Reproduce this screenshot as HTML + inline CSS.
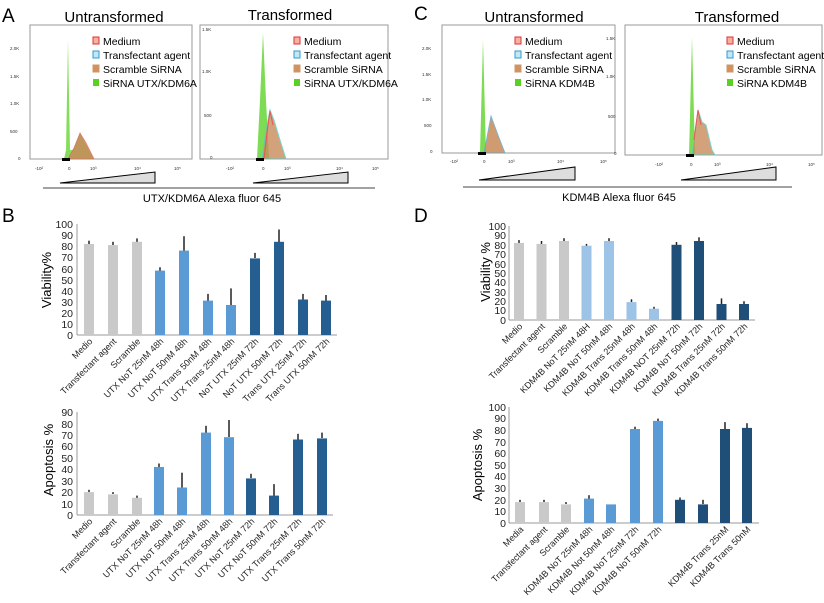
<!DOCTYPE html>
<html><head><meta charset="utf-8"><style>body{margin:0;background:#fff}svg{display:block;font-family:"Liberation Sans",sans-serif}</style></head><body>
<svg width="824" height="603" viewBox="0 0 824 603" xmlns="http://www.w3.org/2000/svg">
<rect width="824" height="603" fill="#fff"/>
<!-- Panel A -->
<text x="2" y="22" font-size="19">A</text>
<text x="114" y="22" font-size="15" text-anchor="middle">Untransformed</text>
<text x="290" y="20" font-size="15" text-anchor="middle">Transformed</text>
<rect x="30" y="25" width="162" height="134" fill="none" stroke="#999" stroke-width="1"/>
<rect x="200" y="25" width="188" height="134" fill="none" stroke="#999" stroke-width="1"/>
<g font-size="4.5" fill="#333">
<text x="10" y="50">2.0K</text><text x="10" y="78">1.5K</text><text x="10" y="105">1.0K</text><text x="10" y="133">500</text><text x="18" y="160">0</text>
<text x="202" y="31">1.5K</text><text x="202" y="73">1.0K</text><text x="204" y="117">500</text><text x="210" y="159">0</text>
</g>
<path d="M64 159 L66 150 L68 40 L70 150 L73 150 L80 133 L86 145 L94 159 Z" fill="#6fd840" opacity="0.85"/>
<path d="M68 159 L74 148 L80 133 L86 143 L94 159 Z" fill="#c98a5a" opacity="0.85" stroke="#d66" stroke-width="0.8"/>
<path d="M257 159 L260 100 L263 33 L266 100 L269 159 Z" fill="#6fd840" opacity="0.9"/>
<path d="M262 159 L266 130 L270 110 L274 120 L280 140 L286 159 Z" fill="#c98a5a" opacity="0.8" stroke="#5cc" stroke-width="1"/>
<path d="M264 159 L268 125 L270 111 L273 125" fill="none" stroke="#e55" stroke-width="1"/>
<g font-size="10.5">
<rect x="93" y="37" width="6" height="7" fill="#f8b0a0" stroke="#d33"/><text x="103" y="45">Medium</text>
<rect x="93" y="51" width="6" height="7" fill="#bfe8f8" stroke="#39c"/><text x="103" y="59">Transfectant agent</text>
<rect x="93" y="65" width="6" height="7" fill="#d59060" stroke="#c96"/><text x="103" y="73">Scramble SiRNA</text>
<rect x="93" y="79" width="6" height="7" fill="#5ad020"/><text x="103" y="87">SiRNA UTX/KDM6A</text>
<rect x="294" y="37" width="6" height="7" fill="#f8b0a0" stroke="#d33"/><text x="304" y="45">Medium</text>
<rect x="294" y="51" width="6" height="7" fill="#bfe8f8" stroke="#39c"/><text x="304" y="59">Transfectant agent</text>
<rect x="294" y="65" width="6" height="7" fill="#d59060" stroke="#c96"/><text x="304" y="73">Scramble SiRNA</text>
<rect x="294" y="79" width="6" height="7" fill="#5ad020"/><text x="304" y="87">SiRNA UTX/KDM6A</text>
</g>
<rect x="62" y="158" width="8" height="3" fill="#000"/><rect x="256" y="158" width="8" height="3" fill="#000"/>
<g font-size="4.5" fill="#333"><text x="35" y="170">-10²</text><text x="68" y="170">0</text><text x="90" y="170">10³</text><text x="134" y="170">10⁴</text><text x="174" y="170">10⁵</text>
<text x="226" y="170">-10²</text><text x="262" y="170">0</text><text x="284" y="170">10³</text><text x="336" y="170">10⁴</text><text x="372" y="170">10⁵</text></g>
<path d="M60 183 L155 172 L155 183 Z" fill="#ddd" stroke="#000" stroke-width="1"/>
<path d="M253 183 L348 172 L348 183 Z" fill="#ddd" stroke="#000" stroke-width="1"/>
<line x1="43" y1="188" x2="375" y2="188" stroke="#444"/>
<text x="212" y="202" font-size="11" text-anchor="middle">UTX/KDM6A Alexa fluor 645</text>
<!-- Panel C -->
<text x="414" y="20" font-size="19">C</text>
<text x="534" y="22" font-size="15" text-anchor="middle">Untransformed</text>
<text x="737" y="22" font-size="15" text-anchor="middle">Transformed</text>
<rect x="442" y="25" width="173" height="128" fill="none" stroke="#999"/>
<rect x="625" y="25" width="197" height="130" fill="none" stroke="#999"/>
<g font-size="4.5" fill="#333"><text x="422" y="50">2.0K</text><text x="422" y="76">1.5K</text><text x="422" y="101">1.0K</text><text x="424" y="127">500</text><text x="430" y="153">0</text>
<text x="606" y="40">1.5K</text><text x="606" y="78">1.0K</text><text x="608" y="118">500</text><text x="614" y="155">0</text></g>
<path d="M480 153 L483 40 L486 153 Z" fill="#6fd840" opacity="0.9"/>
<path d="M484 153 L491 116 L498 135 L505 153 Z" fill="#c98a5a" opacity="0.85" stroke="#5ac" stroke-width="0.8"/>
<path d="M689 155 L692 37 L695 155 Z" fill="#6fd840" opacity="0.9"/>
<path d="M692 155 L698 110 L702 122 L706 125 L712 150 L715 155 Z" fill="#c98a5a" opacity="0.8" stroke="#5cc"/>
<path d="M694 140 L698 110 L701 125" fill="none" stroke="#e55"/>
<g font-size="10.5">
<rect x="515" y="37" width="6" height="7" fill="#f8b0a0" stroke="#d33"/><text x="525" y="45">Medium</text>
<rect x="515" y="51" width="6" height="7" fill="#bfe8f8" stroke="#39c"/><text x="525" y="59">Transfectant agent</text>
<rect x="515" y="65" width="6" height="7" fill="#d59060" stroke="#c96"/><text x="525" y="73">Scramble SiRNA</text>
<rect x="515" y="79" width="6" height="7" fill="#5ad020"/><text x="525" y="87">SiRNA KDM4B</text>
<rect x="727" y="37" width="6" height="7" fill="#f8b0a0" stroke="#d33"/><text x="737" y="45">Medium</text>
<rect x="727" y="51" width="6" height="7" fill="#bfe8f8" stroke="#39c"/><text x="737" y="59">Transfectant agent</text>
<rect x="727" y="65" width="6" height="7" fill="#d59060" stroke="#c96"/><text x="737" y="73">Scramble SiRNA</text>
<rect x="727" y="79" width="6" height="7" fill="#5ad020"/><text x="737" y="87">SiRNA KDM4B</text>
</g>
<rect x="478" y="152" width="8" height="3" fill="#000"/><rect x="686" y="154" width="8" height="3" fill="#000"/>
<g font-size="4.5" fill="#333"><text x="450" y="163">-10²</text><text x="483" y="163">0</text><text x="508" y="163">10³</text><text x="557" y="163">10⁴</text><text x="600" y="163">10⁵</text>
<text x="655" y="166">-10²</text><text x="690" y="166">0</text><text x="714" y="166">10³</text><text x="766" y="166">10⁴</text><text x="808" y="166">10⁵</text></g>
<path d="M479 180 L575 167 L575 180 Z" fill="#ddd" stroke="#000"/>
<path d="M681 180 L776 167 L776 180 Z" fill="#ddd" stroke="#000"/>
<line x1="463" y1="187" x2="792" y2="187" stroke="#444"/>
<text x="619" y="201" font-size="11" text-anchor="middle">KDM4B Alexa fluor 645</text>

<!-- Panel B viability -->
<text x="2" y="222" font-size="19">B</text>
<g font-size="10.5" text-anchor="end" fill="#222">
<text x="73" y="339">0</text><text x="73" y="328">10</text><text x="73" y="317">20</text><text x="73" y="306">30</text><text x="73" y="295">40</text><text x="73" y="284">50</text><text x="73" y="273">60</text><text x="73" y="261">70</text><text x="73" y="250">80</text><text x="73" y="239">90</text><text x="73" y="228">100</text></g>
<text transform="translate(51,280) rotate(-90)" font-size="13" text-anchor="middle">Viability%</text>
<line x1="77" y1="224" x2="77" y2="335" stroke="#999"/><line x1="77" y1="335" x2="337" y2="335" stroke="#999"/>
<g stroke="#222" stroke-width="1.5">
<line x1="89" y1="244" x2="89" y2="240.7"/><line x1="113" y1="245" x2="113" y2="241.8"/><line x1="137" y1="242" x2="137" y2="238.4"/><line x1="160" y1="271" x2="160" y2="267.3"/><line x1="184" y1="251" x2="184" y2="236.2"/><line x1="208" y1="301" x2="208" y2="293.9"/><line x1="231" y1="305" x2="231" y2="288.4"/><line x1="255" y1="258" x2="255" y2="252.9"/><line x1="279" y1="242" x2="279" y2="229.5"/><line x1="303" y1="300" x2="303" y2="293.9"/><line x1="326" y1="301" x2="326" y2="295"/></g>
<g fill="#c9c9c9"><rect x="84" y="244" width="10" height="91"/><rect x="108" y="245.1" width="10" height="89.9"/><rect x="132" y="241.8" width="10" height="93.2"/></g>
<g fill="#5b9bd5"><rect x="155" y="270.6" width="10" height="64.4"/><rect x="179" y="250.6" width="10" height="84.4"/><rect x="203" y="300.6" width="10" height="34.4"/><rect x="226" y="305" width="10" height="30"/></g>
<g fill="#255e91"><rect x="250" y="258.4" width="10" height="76.6"/><rect x="274" y="241.8" width="10" height="93.2"/><rect x="298" y="299.5" width="10" height="35.5"/><rect x="321" y="300.6" width="10" height="34.4"/></g>
<g font-size="9" text-anchor="end" fill="#222">
<text transform="translate(93,342) rotate(-45)">Medio</text>
<text transform="translate(117,342) rotate(-45)">Transfectant agent</text>
<text transform="translate(141,342) rotate(-45)">Scramble</text>
<text transform="translate(164,342) rotate(-45)">UTX NoT 25nM 48h</text>
<text transform="translate(188,342) rotate(-45)">UTX NoT 50nM 48h</text>
<text transform="translate(212,342) rotate(-45)">UTX Trans 50nM 48h</text>
<text transform="translate(235,342) rotate(-45)">UTX Trans 25nM 48h</text>
<text transform="translate(259,342) rotate(-45)">NoT UTX 25nM 72h</text>
<text transform="translate(283,342) rotate(-45)">NoT UTX 50nM 72h</text>
<text transform="translate(307,342) rotate(-45)">Trans UTX 25nM 72h</text>
<text transform="translate(330,342) rotate(-45)">Trans UTX 50nM 72h</text></g>

<!-- Panel B apoptosis -->
<g font-size="10.5" text-anchor="end" fill="#222">
<text x="73" y="519">0</text><text x="73" y="508">10</text><text x="73" y="496">20</text><text x="73" y="485">30</text><text x="73" y="473">40</text><text x="73" y="462">50</text><text x="73" y="450">60</text><text x="73" y="439">70</text><text x="73" y="428">80</text><text x="73" y="416">90</text></g>
<text transform="translate(53,460) rotate(-90)" font-size="13" text-anchor="middle">Apoptosis %</text>
<line x1="77" y1="412" x2="77" y2="515" stroke="#999"/><line x1="77" y1="515" x2="333" y2="515" stroke="#999"/>
<g stroke="#222" stroke-width="1.5">
<line x1="89" y1="492" x2="89" y2="489.8"/><line x1="113" y1="494" x2="113" y2="492.1"/><line x1="137" y1="498" x2="137" y2="495.6"/><line x1="159" y1="467" x2="159" y2="463.5"/><line x1="182" y1="488" x2="182" y2="472.7"/><line x1="206" y1="433" x2="206" y2="425.8"/><line x1="229" y1="437" x2="229" y2="420"/><line x1="251" y1="478" x2="251" y2="473.8"/><line x1="274" y1="496" x2="274" y2="484.1"/><line x1="298" y1="440" x2="298" y2="433.8"/><line x1="322" y1="438" x2="322" y2="432.6"/></g>
<g fill="#c9c9c9"><rect x="84" y="492.1" width="10" height="22.9"/><rect x="108" y="494.4" width="10" height="20.6"/><rect x="132" y="497.8" width="10" height="17.2"/></g>
<g fill="#5b9bd5"><rect x="154" y="467" width="10" height="48"/><rect x="177" y="487.5" width="10" height="27.5"/><rect x="201" y="432.6" width="10" height="82.4"/><rect x="224" y="437.2" width="10" height="77.8"/></g>
<g fill="#255e91"><rect x="246" y="478.4" width="10" height="36.6"/><rect x="269" y="495.6" width="10" height="19.4"/><rect x="293" y="439.5" width="10" height="75.5"/><rect x="317" y="438.4" width="10" height="76.6"/></g>
<g font-size="9" text-anchor="end" fill="#222">
<text transform="translate(93,522) rotate(-45)">Medio</text>
<text transform="translate(117,522) rotate(-45)">Transfectant agent</text>
<text transform="translate(141,522) rotate(-45)">Scramble</text>
<text transform="translate(163,522) rotate(-45)">UTX NoT 25nM 48h</text>
<text transform="translate(186,522) rotate(-45)">UTX NoT 50nM 48h</text>
<text transform="translate(210,522) rotate(-45)">UTX Trans 25nM 48h</text>
<text transform="translate(233,522) rotate(-45)">UTX Trans 50nM 48h</text>
<text transform="translate(255,522) rotate(-45)">UTX NoT 25nM 72h</text>
<text transform="translate(278,522) rotate(-45)">UTX NoT 50nM 72h</text>
<text transform="translate(302,522) rotate(-45)">UTX Trans 25nM 72h</text>
<text transform="translate(326,522) rotate(-45)">UTX Trans 50nM 72h</text></g>

<!-- Panel D viability -->
<text x="414" y="222" font-size="19">D</text>
<g font-size="10.5" text-anchor="end" fill="#222">
<text x="506" y="324">0</text><text x="506" y="314">10</text><text x="506" y="305">20</text><text x="506" y="296">30</text><text x="506" y="286">40</text><text x="506" y="277">50</text><text x="506" y="268">60</text><text x="506" y="258">70</text><text x="506" y="249">80</text><text x="506" y="239">90</text><text x="506" y="230">100</text></g>
<text transform="translate(490,272) rotate(-90)" font-size="13" text-anchor="middle">Viability  %</text>
<line x1="509" y1="226" x2="509" y2="320" stroke="#999"/><line x1="509" y1="320" x2="755" y2="320" stroke="#999"/>
<g stroke="#222" stroke-width="1.5">
<line x1="519" y1="243" x2="519" y2="240.1"/><line x1="541.5" y1="244" x2="541.5" y2="241"/><line x1="564" y1="241" x2="564" y2="238.2"/><line x1="586.5" y1="246" x2="586.5" y2="243.9"/><line x1="609" y1="241" x2="609" y2="238.2"/><line x1="631.5" y1="302" x2="631.5" y2="299.3"/><line x1="654" y1="309" x2="654" y2="306.8"/><line x1="676.5" y1="245" x2="676.5" y2="242"/><line x1="699" y1="241" x2="699" y2="237.3"/><line x1="721.5" y1="304" x2="721.5" y2="298.4"/><line x1="744" y1="304" x2="744" y2="301.2"/></g>
<g fill="#c9c9c9"><rect x="514" y="242.9" width="10" height="77.1"/><rect x="536.5" y="243.9" width="10" height="76.1"/><rect x="559" y="241" width="10" height="79"/></g>
<g fill="#9dc3e6"><rect x="581.5" y="245.7" width="10" height="74.3"/><rect x="604" y="241" width="10" height="79"/><rect x="626.5" y="302.1" width="10" height="17.9"/><rect x="649" y="308.7" width="10" height="11.3"/></g>
<g fill="#1f4e79"><rect x="671.5" y="244.8" width="10" height="75.2"/><rect x="694" y="241" width="10" height="79"/><rect x="716.5" y="304" width="10" height="16"/><rect x="739" y="304" width="10" height="16"/></g>
<g font-size="9" text-anchor="end" fill="#222">
<text transform="translate(523,327) rotate(-45)">Medio</text>
<text transform="translate(545.5,327) rotate(-45)">Transfectant agent</text>
<text transform="translate(568,327) rotate(-45)">Scramble</text>
<text transform="translate(590.5,327) rotate(-45)">KDM4B NoT 25nM 48H</text>
<text transform="translate(613,327) rotate(-45)">KDM4B NoT 50nM 48h</text>
<text transform="translate(635.5,327) rotate(-45)">KDM4B Trans 25nM 48h</text>
<text transform="translate(658,327) rotate(-45)">KDM4B Trans 50nM 48h</text>
<text transform="translate(680.5,327) rotate(-45)">KDM4B NOT 25nM 72h</text>
<text transform="translate(703,327) rotate(-45)">KDM4B NoT 50nM 72h</text>
<text transform="translate(725.5,327) rotate(-45)">KDM4B Trans 25nM 72h</text>
<text transform="translate(748,327) rotate(-45)">KDM4B Trans 50nM 72h</text></g>

<!-- Panel D apoptosis -->
<g font-size="10.5" text-anchor="end" fill="#222">
<text x="506" y="527">0</text><text x="506" y="515">10</text><text x="506" y="504">20</text><text x="506" y="492">30</text><text x="506" y="480">40</text><text x="506" y="469">50</text><text x="506" y="457">60</text><text x="506" y="446">70</text><text x="506" y="434">80</text><text x="506" y="422">90</text><text x="506" y="411">100</text></g>
<text transform="translate(482,465) rotate(-90)" font-size="13" text-anchor="middle">Apoptosis %</text>
<line x1="509" y1="407" x2="509" y2="523" stroke="#999"/><line x1="509" y1="523" x2="759" y2="523" stroke="#999"/>
<g stroke="#222" stroke-width="1.5">
<line x1="520" y1="502" x2="520" y2="499.8"/><line x1="544" y1="502" x2="544" y2="499.8"/><line x1="566" y1="504" x2="566" y2="502.1"/><line x1="589" y1="499" x2="589" y2="495.2"/><line x1="635" y1="429" x2="635" y2="426.7"/><line x1="658" y1="421" x2="658" y2="418.6"/><line x1="680" y1="500" x2="680" y2="497.5"/><line x1="703" y1="504" x2="703" y2="499.8"/><line x1="725" y1="429" x2="725" y2="422.1"/><line x1="747" y1="428" x2="747" y2="423.2"/></g>
<g fill="#c9c9c9"><rect x="515" y="502.1" width="10" height="20.9"/><rect x="539" y="502.1" width="10" height="20.9"/><rect x="561" y="504.4" width="10" height="18.6"/></g>
<g fill="#5b9bd5"><rect x="584" y="498.6" width="10" height="24.4"/><rect x="606" y="504.4" width="10" height="18.6"/><rect x="630" y="429" width="10" height="94"/><rect x="653" y="420.9" width="10" height="102.1"/></g>
<g fill="#1f4e79"><rect x="675" y="499.8" width="10" height="23.2"/><rect x="698" y="504.4" width="10" height="18.6"/><rect x="720" y="429" width="10" height="94"/><rect x="742" y="427.9" width="10" height="95.1"/></g>
<g font-size="9" text-anchor="end" fill="#222">
<text transform="translate(524,530) rotate(-45)">Media</text>
<text transform="translate(548,530) rotate(-45)">Transfectant agent</text>
<text transform="translate(570,530) rotate(-45)">Scramble</text>
<text transform="translate(593,530) rotate(-45)">KDM4B NoT 25nM 48h</text>
<text transform="translate(615,530) rotate(-45)">KDM4B Not 50nM 48h</text>
<text transform="translate(639,530) rotate(-45)">KDM4B NoT 25nM 72h</text>
<text transform="translate(662,530) rotate(-45)">KDM4B NoT 50nM 72h</text>
<text transform="translate(729,530) rotate(-45)">KDM4B Trans 25nM</text>
<text transform="translate(751,530) rotate(-45)">KDM4B Trans 50nM</text></g>
</svg>
</body></html>
